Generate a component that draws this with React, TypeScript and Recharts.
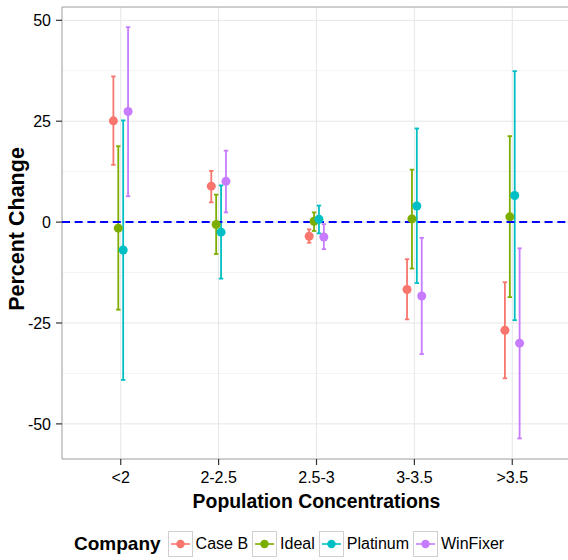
import React from 'react';
import {
  ComposedChart,
  Scatter,
  ErrorBar,
  XAxis,
  YAxis,
  CartesianGrid,
  ReferenceLine,
  ReferenceArea,
  Legend,
} from 'recharts';

const categories = ['<2', '2-2.5', '2.5-3', '3-3.5', '>3.5'];
const companies = ['Case B', 'Ideal', 'Platinum', 'WinFixer'];
const colors = ['#F8766D', '#7CAE00', '#00BFC4', '#C77CFF'];

const caseBMean = [25.1, 8.9, -3.5, -16.7, -26.8];
const caseBLow = [14.2, 4.9, -5.1, -24.1, -38.7];
const caseBHigh = [36.1, 12.7, -1.8, -9.2, -14.9];

const idealMean = [-1.5, -0.6, 0.2, 0.8, 1.3];
const idealLow = [-21.7, -7.9, -2.2, -11.5, -18.6];
const idealHigh = [18.8, 6.8, 2.4, 13.0, 21.3];

const platinumMean = [-6.9, -2.5, 0.7, 4.0, 6.6];
const platinumLow = [-39.1, -14.0, -2.8, -15.1, -24.3];
const platinumHigh = [25.2, 9.1, 4.1, 23.2, 37.4];

const winFixerMean = [27.4, 10.1, -3.7, -18.3, -30.0];
const winFixerLow = [6.4, 2.4, -6.7, -32.7, -53.6];
const winFixerHigh = [48.3, 17.7, -0.5, -3.9, -6.5];

const yTicks = [-50, -25, 0, 25, 50];
const yMinor = [-37.5, -12.5, 12.5, 37.5];
const yDomain = [-58.7, 53.3];
const xDomain = [-0.6, 4.6];
const dodgeWidth = 0.2;

const seriesMeans = [caseBMean, idealMean, platinumMean, winFixerMean];
const seriesLows = [caseBLow, idealLow, platinumLow, winFixerLow];
const seriesHighs = [caseBHigh, idealHigh, platinumHigh, winFixerHigh];

const FONT = '"Liberation Sans", Arial, Helvetica, sans-serif';

const buildSeries = (k: number) =>
  categories.map((_, i) => {
    const offset = (k - (companies.length - 1) / 2) * (dodgeWidth / companies.length);
    const m = seriesMeans[k][i];
    return {
      x: i + offset,
      y: m,
      err: [m - seriesLows[k][i], seriesHighs[k][i] - m],
    };
  });

const Dot = (props: any) => {
  const { cx, cy, fill } = props;
  if (cx == null || cy == null) return null;
  return <circle cx={cx} cy={cy} r={4.5} fill={fill} />;
};

const LegendContent = () => (
  <div
    style={{
      display: 'flex',
      alignItems: 'center',
      height: 46,
      paddingTop: 14,
      boxSizing: 'border-box',
      paddingLeft: 74,
      fontFamily: FONT,
      color: '#000',
    }}
  >
    <span style={{ fontWeight: 'bold', fontSize: 19, marginRight: 7 }}>Company</span>
    {companies.map((c, k) => (
      <span key={c} style={{ display: 'flex', alignItems: 'center', marginRight: 4 }}>
        <svg width={25} height={26} style={{ display: 'block' }}>
          <rect x={0.5} y={0.5} width={24} height={25} fill="#fff" stroke="#d0d0d0" strokeWidth={1} />
          <line x1={3} x2={22} y1={13} y2={13} stroke={colors[k]} strokeWidth={1.6} />
          <circle cx={12.5} cy={13} r={4.2} fill={colors[k]} />
        </svg>
        <span style={{ fontSize: 16, marginLeft: 3 }}>{c}</span>
      </span>
    ))}
  </div>
);

export default function App() {
  return (
    <div style={{ width: 568, height: 560, overflow: 'hidden', position: 'relative', background: '#fff' }}>
      <style>{'body{margin:0}'}</style>
      <ComposedChart
        width={576}
        height={560}
        margin={{ top: 7, right: 5, left: 0, bottom: 0 }}
        style={{ fontFamily: FONT }}
      >
        <CartesianGrid
          horizontalValues={yMinor}
          vertical={false}
          stroke="#f3f3f3"
          strokeWidth={1}
        />
        <CartesianGrid stroke="#e6e6e6" strokeWidth={1} />
        <XAxis
          type="number"
          dataKey="x"
          domain={xDomain}
          ticks={[0, 1, 2, 3, 4]}
          tickFormatter={(v: number) => categories[Math.round(v)]}
          allowDataOverflow
          axisLine={false}
          tickSize={6}
          tickMargin={7}
          tickLine={{ stroke: '#333', strokeWidth: 1.2 }}
          tick={{ fill: '#000', fontSize: 16, fontFamily: FONT }}
          height={55}
          label={{
            value: 'Population Concentrations',
            position: 'insideBottom',
            offset: 6,
            style: { fontWeight: 'bold', fontSize: 19.4, fill: '#000', fontFamily: FONT },
          }}
        />
        <YAxis
          type="number"
          dataKey="y"
          domain={yDomain}
          ticks={yTicks}
          allowDataOverflow
          axisLine={false}
          width={62}
          tickSize={6}
          tickMargin={5}
          tickLine={{ stroke: '#333', strokeWidth: 1.2 }}
          tick={{ fill: '#000', fontSize: 16, fontFamily: FONT }}
          label={{
            value: 'Percent Change',
            angle: -90,
            position: 'insideLeft',
            offset: 16,
            dy: -4,
            style: { fontWeight: 'bold', fontSize: 21.5, fill: '#000', textAnchor: 'middle', fontFamily: FONT },
          }}
        />
        <ReferenceArea
          x1={xDomain[0]}
          x2={xDomain[1]}
          y1={yDomain[0]}
          y2={yDomain[1]}
          fill="none"
          stroke="#a8a8a8"
          strokeWidth={1}
          fillOpacity={0}
          strokeOpacity={1}
        />
        {companies.map((c, k) => (
          <Scatter
            key={c}
            name={c}
            data={buildSeries(k)}
            fill={colors[k]}
            shape={<Dot />}
            isAnimationActive={false}
          >
            <ErrorBar
              dataKey="err"
              direction="y"
              width={2.2}
              stroke={colors[k]}
              strokeWidth={1.8}
              isAnimationActive={false}
            />
          </Scatter>
        ))}
        <ReferenceLine y={0} stroke="#0000ff" strokeWidth={2} strokeDasharray="8 4.7" />
        <Legend
          verticalAlign="bottom"
          content={<LegendContent />}
          wrapperStyle={{ left: 0, bottom: 0, width: 568, height: 46 }}
        />
      </ComposedChart>
    </div>
  );
}
